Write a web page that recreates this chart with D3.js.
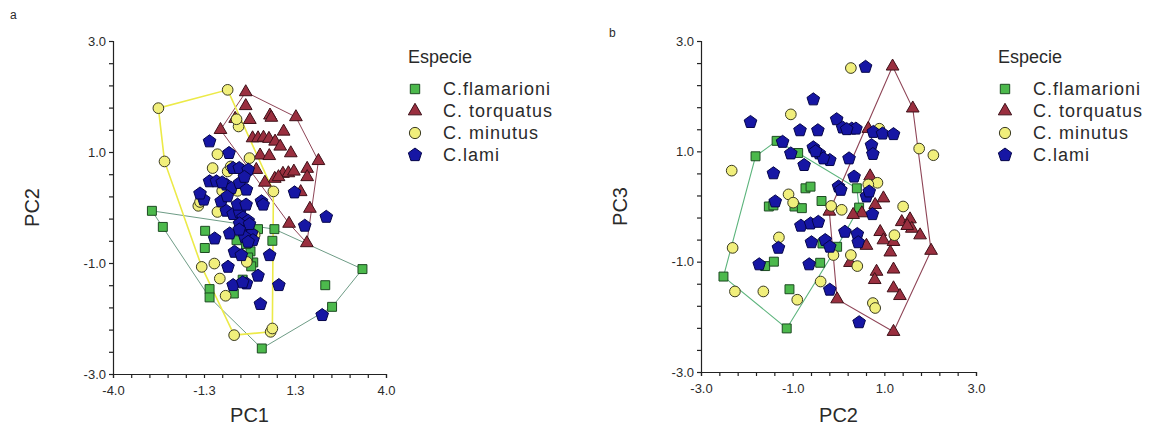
<!DOCTYPE html>
<html>
<head>
<meta charset="utf-8">
<script src="https://cdn.jsdelivr.net/npm/d3@7"></script>
<style>
body { margin: 0; background: #fff; }
text { font-family: "Liberation Sans", Arial, sans-serif; fill: #2a2a2a; }
</style>
</head>
<body>
<div id="chart"></div>
<script>
// legend
const legendTitle = 'Especie';
const species = ['C.flamarioni', 'C. torquatus', 'C. minutus', 'C.lami'];

// panel a : PC1 x PC2
const flamarioniA = [[-2.86,-0.06],[-2.54,-0.35],[-1.30,-0.42],[-1.31,-0.73],[-1.17,-1.47],[-1.17,-1.62],[-0.46,-1.55],[-0.20,-1.30],[0.03,-0.79],[0.11,-0.99],[-0.04,-0.90],[0.25,-0.39],[0.73,-0.39],[0.67,-0.60],[-0.38,-0.59],[3.31,-1.11],[2.22,-1.40],[2.42,-1.79],[0.36,-2.54],[-0.10,-0.66],[0.05,-1.06]];
const torquatusA = [[-0.11,2.08],[-0.11,1.83],[-0.42,1.60],[0.01,1.58],[0.60,1.66],[0.64,1.62],[1.36,1.63],[1.00,1.37],[0.09,1.25],[0.25,1.25],[0.41,1.26],[0.57,1.24],[0.75,1.19],[0.90,1.10],[0.31,0.94],[0.58,0.93],[1.21,0.98],[2.02,0.84],[1.69,0.70],[0.98,0.61],[1.14,0.62],[1.30,0.65],[0.74,0.52],[0.20,0.68],[1.50,0.28],[1.77,-0.02],[1.16,-0.29],[1.68,-0.64],[-0.85,1.40],[1.69,0.55],[0.45,0.45],[0.85,0.55]];
const minutusA = [[-0.64,2.12],[-2.67,1.79],[-2.49,0.83],[-0.32,1.46],[-0.38,1.59],[0.00,0.89],[-0.94,0.96],[-1.08,0.71],[-0.64,0.65],[-0.55,0.74],[0.70,0.29],[-1.50,0.03],[-1.45,0.10],[-0.94,-0.08],[-1.40,-1.07],[-1.03,-1.01],[-0.87,-1.28],[-0.70,-1.59],[-0.08,-0.98],[-0.25,-0.85],[-0.45,-2.30],[0.62,-2.24],[0.67,-2.18],[0.15,-0.50],[-0.35,0.30],[-0.80,0.30]];
const lamiA = [[-1.17,1.19],[-0.60,0.98],[-0.48,0.71],[-0.30,0.71],[-0.04,0.68],[-1.17,0.47],[-0.97,0.47],[-0.68,0.41],[-0.53,0.35],[-0.29,0.44],[-0.09,0.32],[-1.34,0.14],[-0.83,0.11],[0.35,0.11],[0.40,0.05],[1.32,0.27],[1.62,-0.33],[2.25,-0.17],[-0.68,-0.06],[-0.48,-0.12],[-0.29,-0.09],[-0.19,-0.18],[-0.04,-0.24],[-0.29,-0.29],[-0.09,-0.41],[0.06,-0.47],[-0.14,-0.53],[0.10,-0.59],[-0.04,-0.62],[-1.02,-0.56],[-0.58,-0.47],[-0.44,-0.80],[-0.24,-0.86],[0.59,-0.86],[-0.63,-1.07],[-0.09,-1.37],[0.25,-1.23],[-0.48,-1.40],[0.86,-1.40],[0.32,-1.74],[2.13,-1.94],[-0.20,-1.35],[-1.45,0.25],[-0.80,0.45],[-0.15,0.55],[-0.35,0.05],[-0.65,0.20],[0.00,-0.30],[-0.30,-0.40],[-0.10,0.05]];

// panel b : PC2 x PC3
const flamarioniB = [[-2.51,-1.27],[-1.81,0.91],[-1.35,1.19],[-0.88,0.97],[-0.72,0.33],[-0.61,0.36],[-1.52,0.00],[-1.42,0.02],[-0.96,0.00],[-0.80,-0.03],[-0.37,0.10],[0.40,0.33],[-1.60,-1.08],[-1.41,-1.00],[-1.07,-1.50],[-0.40,-1.02],[-0.35,-0.67],[-0.03,-0.73],[-1.13,-2.21],[0.45,-0.02]];
const torquatusB = [[1.18,2.54],[1.62,1.78],[2.02,-0.80],[1.20,-2.27],[-0.03,-1.68],[-0.20,-0.09],[0.65,1.41],[0.69,0.55],[0.98,0.15],[0.80,0.03],[0.51,-0.12],[0.32,-0.15],[1.38,-0.28],[1.56,-0.23],[1.60,-0.40],[1.78,-0.52],[0.91,-0.46],[0.98,-0.61],[1.20,-0.64],[0.61,-0.71],[1.13,-0.83],[1.20,-1.14],[0.83,-1.18],[0.79,-1.33],[1.20,-1.48],[1.34,-1.62],[0.25,-1.02],[1.50,-0.35]];
const minutusB = [[0.27,2.51],[-1.04,1.67],[-2.33,0.65],[-2.31,-0.75],[-2.26,-1.54],[-1.64,-1.54],[-0.90,-1.69],[-1.09,0.22],[-0.99,0.07],[-1.30,-0.56],[-0.39,-1.36],[-0.16,0.01],[0.07,-0.06],[-0.11,-0.88],[0.27,-0.88],[0.41,-1.08],[0.75,-1.75],[0.80,-1.84],[0.89,1.41],[0.85,0.43],[1.41,0.00],[1.22,-0.52],[1.76,1.05],[2.07,0.93],[0.65,0.40]];
const lamiB = [[0.59,2.53],[-0.55,1.94],[-1.92,1.53],[-0.04,1.58],[-0.84,1.38],[-0.45,1.38],[0.09,1.43],[0.29,1.41],[0.38,1.41],[0.18,1.40],[0.76,1.35],[0.96,1.32],[1.20,1.31],[-1.22,1.17],[-1.04,0.96],[-0.55,1.07],[-0.42,0.96],[-0.19,0.84],[-0.33,0.87],[-0.75,0.75],[0.23,0.87],[0.72,1.11],[0.75,0.95],[-1.42,0.60],[0.34,0.54],[0.00,0.36],[0.05,0.30],[0.61,0.18],[-1.38,0.09],[-0.82,-0.35],[-0.61,-0.31],[-0.44,-0.28],[0.14,-0.46],[0.41,-0.50],[0.43,-0.65],[-0.59,-0.65],[-0.29,-0.61],[-1.31,-0.75],[-0.19,-0.73],[-1.73,-1.05],[-0.64,-1.05],[-0.19,-1.51],[0.45,-2.10],[0.74,-0.14],[0.67,0.27],[-0.50,1.00]];

// tick labels
const xLabelsA = ['-4.0', '-1.3', '1.3', '4.0'];
const xLabelsB = ['-3.0', '-1.0', '1.0', '3.0'];
const yLabels = ['3.0', '1.0', '-1.0', '-3.0'];

const symbolPentagon = {
	draw(ctx, size) {
		const r = Math.sqrt(size / 2.378);
		for (let i = 0; i < 5; i++) {
			const a = -Math.PI / 2 + i * 2 * Math.PI / 5;
			if (i === 0) ctx.moveTo(r * Math.cos(a), r * Math.sin(a));
			else ctx.lineTo(r * Math.cos(a), r * Math.sin(a));
		}
		ctx.closePath();
	}
};

const styles = [
	{ type: d3.symbolSquare, size: 80, fill: '#4cb94c', stroke: '#1d4a22' },
	{ type: d3.symbolTriangle, size: 70, fill: '#9a2f3f', stroke: '#3d1018' },
	{ type: d3.symbolCircle, size: 90, fill: '#f1ef7c', stroke: '#3a3a20' },
	{ type: symbolPentagon, size: 105, fill: '#1616a4', stroke: '#05054a' }
];

const svg = d3.select('#chart').append('svg')
	.attr('width', 1157)
	.attr('height', 430);

const drawPanel = function(opt) {
	const x = d3.scaleLinear().domain(opt.xDomain).range([opt.left, opt.right]);
	const y = d3.scaleLinear().domain([-3, 3]).range([opt.bottom, opt.top]);
	const g = svg.append('g');

	const xStep = (opt.xDomain[1] - opt.xDomain[0]) / 15;
	const xTicks = d3.range(16).map(i => opt.xDomain[0] + i * xStep);
	const yTicks = d3.range(16).map(i => -3 + i * 0.4);

	const yAxis = g.append('g')
		.attr('transform', `translate(${opt.left},0)`)
		.call(d3.axisLeft(y).tickValues(yTicks).tickSize(4).tickPadding(3)
			.tickFormat((d, i) => (15 - i) % 5 === 0 ? yLabels[(15 - i) / 5] : ''));
	const xAxis = g.append('g')
		.attr('transform', `translate(0,${opt.bottom})`)
		.call(d3.axisBottom(x).tickValues(xTicks).tickSize(4).tickPadding(8)
			.tickFormat((d, i) => i % 5 === 0 ? opt.xLabels[i / 5] : ''));
	[xAxis, yAxis].forEach(a => {
		a.select('.domain').attr('stroke', '#222').attr('stroke-width', 1.2);
		a.selectAll('.tick line').attr('stroke', '#222').attr('stroke-width', 1.2);
		a.selectAll('.tick text').attr('font-size', 13).attr('fill', '#2a2a2a')
			.attr('font-family', '"Liberation Sans", Arial, sans-serif');
	});

	// convex hulls (only the species outlined in the original)
	opt.hulls.forEach(h => {
		const pts = opt.series[h.index];
		const hull = d3.polygonHull(pts.map(p => [x(p[0]), y(p[1])]));
		g.append('path')
			.attr('d', d3.line().curve(d3.curveLinearClosed)(hull))
			.attr('fill', 'none')
			.attr('stroke', h.color)
			.attr('stroke-width', h.width);
	});

	opt.series.forEach((pts, k) => {
		g.append('g').selectAll('path')
			.data(pts)
			.enter().append('path')
			.attr('transform', d => `translate(${x(d[0])},${y(d[1])})`)
			.attr('d', d3.symbol().type(styles[k].type).size(styles[k].size))
			.attr('fill', styles[k].fill)
			.attr('stroke', styles[k].stroke)
			.attr('stroke-width', 1);
	});

	g.append('text')
		.attr('x', (opt.left + opt.right) / 2)
		.attr('y', 422)
		.attr('text-anchor', 'middle')
		.attr('font-size', 20)
		.text(opt.xTitle);
	g.append('text')
		.attr('transform', `translate(${opt.left - 74},${(opt.top + opt.bottom) / 2}) rotate(-90)`)
		.attr('text-anchor', 'middle')
		.attr('font-size', 20)
		.text(opt.yTitle);
	g.append('text')
		.attr('x', opt.tagX)
		.attr('y', opt.tagY)
		.attr('font-size', 12)
		.text(opt.tag);

	// legend
	const lx = opt.right + 22;
	const legend = g.append('g').attr('transform', `translate(${lx},0)`);
	legend.append('text')
		.attr('x', 0)
		.attr('y', 63)
		.attr('font-size', 18)
		.text(legendTitle);
	const item = legend.selectAll('.item')
		.data(species)
		.enter().append('g')
		.attr('class', 'item')
		.attr('transform', (d, i) => `translate(0,${89 + i * 22})`);
	item.append('path')
		.attr('transform', 'translate(7,0)')
		.attr('d', (d, i) => d3.symbol().type(styles[i].type).size(styles[i].size * 1.1)())
		.attr('fill', (d, i) => styles[i].fill)
		.attr('stroke', (d, i) => styles[i].stroke);
	item.append('text')
		.attr('x', 35)
		.attr('y', 6)
		.attr('font-size', 18)
		.attr('letter-spacing', 1)
		.text(d => d);
};

drawPanel({
	left: 113, right: 386, top: 41, bottom: 374,
	xDomain: [-4, 4], xLabels: xLabelsA,
	xTitle: 'PC1', yTitle: 'PC2', tag: 'a', tagX: 10, tagY: 19,
	series: [flamarioniA, torquatusA, minutusA, lamiA],
	hulls: [
		{ index: 0, color: '#6e9c86', width: 1 },
		{ index: 1, color: '#8e4456', width: 1 },
		{ index: 2, color: '#ecea48', width: 1.6 }
	]
});
drawPanel({
	left: 701, right: 976, top: 41, bottom: 372,
	xDomain: [-3, 3], xLabels: xLabelsB,
	xTitle: 'PC2', yTitle: 'PC3', tag: 'b', tagX: 609, tagY: 37,
	series: [flamarioniB, torquatusB, minutusB, lamiB],
	hulls: [
		{ index: 0, color: '#5cb47c', width: 1.1 },
		{ index: 1, color: '#8e4456', width: 1.1 }
	]
});
</script>
</body>
</html>
